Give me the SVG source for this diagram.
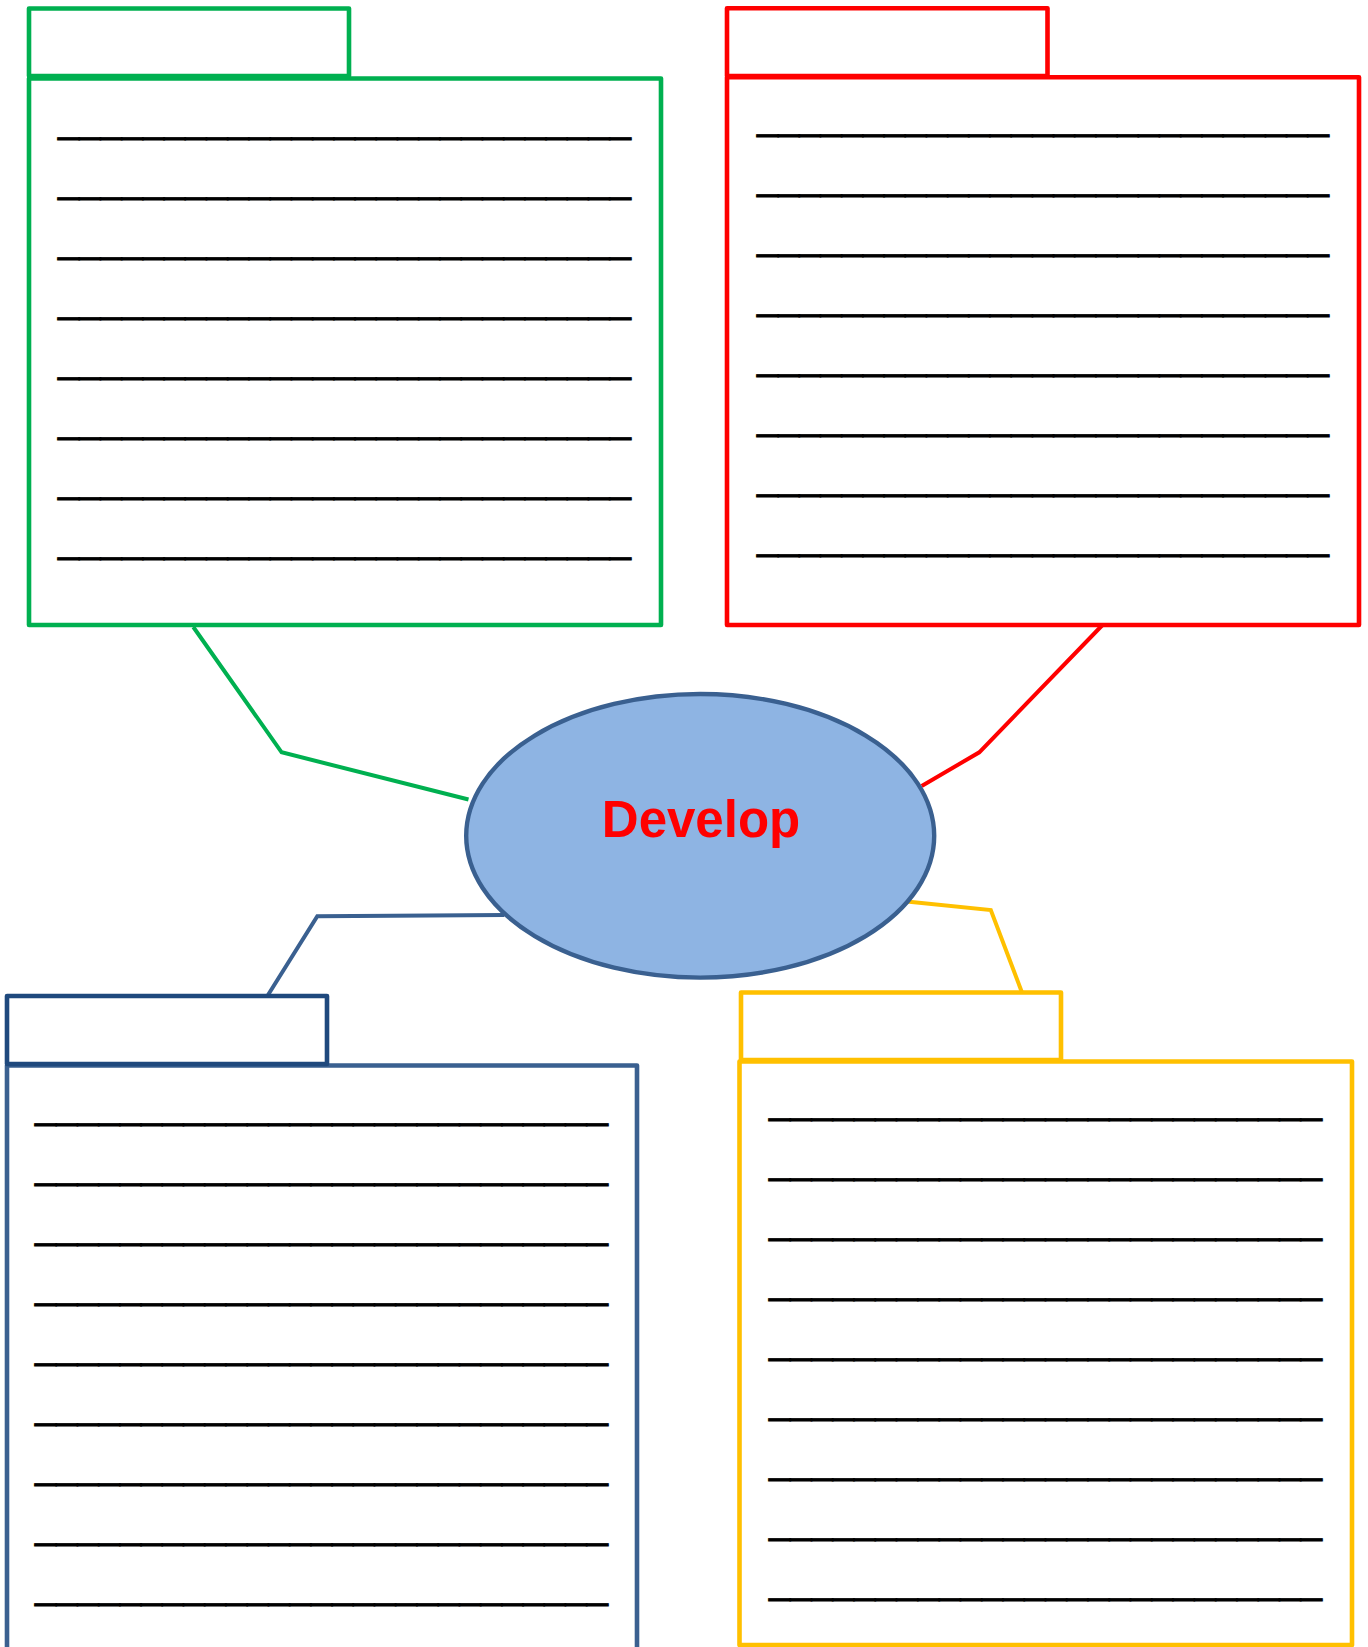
<svg xmlns="http://www.w3.org/2000/svg" width="1368" height="1647" viewBox="0 0 1368 1647">
<style>
.box{fill:#FFFFFF;stroke-width:4.6;stroke-linejoin:round}
.ul{font-family:"Liberation Sans",Arial,sans-serif;font-size:38px;fill:#000000;stroke:#000000;stroke-width:0.8}
.con{fill:none;stroke-width:4;stroke-linejoin:miter}
.g{stroke:#00B050}.r{stroke:#FF0000}.y{stroke:#FFC000}.bt{stroke:#1F497D}.bm{stroke:#3A6090}
</style>
<rect x="0" y="0" width="1368" height="1647" fill="#FFFFFF"/>
<g id="connectors">
<polyline class="con g" points="193.3,627 281.6,752.3 468.5,799.5"/>
<polyline class="con r" points="1102.5,625 979.3,752.3 921.7,786"/>
<polyline class="con bm" stroke-width="3.8" points="504.3,915 317.3,916.2 268,995"/>
<polyline class="con y" points="906.8,901.5 990.8,910 1021.8,992"/>
</g>
<g id="node-green">
<rect class="box g" x="29" y="78.5" width="632" height="546.5"/>
<rect class="box g" x="29" y="8.5" width="320" height="67.5"/>
<g class="lines">
<text class="ul" x="58" y="131.7" textLength="573" lengthAdjust="spacingAndGlyphs">___________________________</text>
<text class="ul" x="58" y="191.7" textLength="573" lengthAdjust="spacingAndGlyphs">___________________________</text>
<text class="ul" x="58" y="251.7" textLength="573" lengthAdjust="spacingAndGlyphs">___________________________</text>
<text class="ul" x="58" y="311.7" textLength="573" lengthAdjust="spacingAndGlyphs">___________________________</text>
<text class="ul" x="58" y="371.7" textLength="573" lengthAdjust="spacingAndGlyphs">___________________________</text>
<text class="ul" x="58" y="431.7" textLength="573" lengthAdjust="spacingAndGlyphs">___________________________</text>
<text class="ul" x="58" y="491.7" textLength="573" lengthAdjust="spacingAndGlyphs">___________________________</text>
<text class="ul" x="58" y="551.7" textLength="573" lengthAdjust="spacingAndGlyphs">___________________________</text>
</g>
</g>
<g id="node-red">
<rect class="box r" x="727" y="77.3" width="632" height="547.7"/>
<rect class="box r" x="727" y="8.3" width="320.5" height="67.7"/>
<g class="lines">
<text class="ul" x="757" y="129.4" textLength="572" lengthAdjust="spacingAndGlyphs">___________________________</text>
<text class="ul" x="757" y="189.4" textLength="572" lengthAdjust="spacingAndGlyphs">___________________________</text>
<text class="ul" x="757" y="249.4" textLength="572" lengthAdjust="spacingAndGlyphs">___________________________</text>
<text class="ul" x="757" y="309.4" textLength="572" lengthAdjust="spacingAndGlyphs">___________________________</text>
<text class="ul" x="757" y="369.4" textLength="572" lengthAdjust="spacingAndGlyphs">___________________________</text>
<text class="ul" x="757" y="429.4" textLength="572" lengthAdjust="spacingAndGlyphs">___________________________</text>
<text class="ul" x="757" y="489.4" textLength="572" lengthAdjust="spacingAndGlyphs">___________________________</text>
<text class="ul" x="757" y="549.4" textLength="572" lengthAdjust="spacingAndGlyphs">___________________________</text>
</g>
</g>
<g id="node-blue">
<rect class="box bm" stroke-width="4" x="7" y="1065.5" width="630" height="600"/>
<rect class="box bt" x="7" y="996" width="320" height="68"/>
<g class="lines">
<text class="ul" x="35" y="1117.7" textLength="573" lengthAdjust="spacingAndGlyphs">___________________________</text>
<text class="ul" x="35" y="1177.7" textLength="573" lengthAdjust="spacingAndGlyphs">___________________________</text>
<text class="ul" x="35" y="1237.7" textLength="573" lengthAdjust="spacingAndGlyphs">___________________________</text>
<text class="ul" x="35" y="1297.7" textLength="573" lengthAdjust="spacingAndGlyphs">___________________________</text>
<text class="ul" x="35" y="1357.7" textLength="573" lengthAdjust="spacingAndGlyphs">___________________________</text>
<text class="ul" x="35" y="1417.7" textLength="573" lengthAdjust="spacingAndGlyphs">___________________________</text>
<text class="ul" x="35" y="1477.7" textLength="573" lengthAdjust="spacingAndGlyphs">___________________________</text>
<text class="ul" x="35" y="1537.7" textLength="573" lengthAdjust="spacingAndGlyphs">___________________________</text>
<text class="ul" x="35" y="1597.7" textLength="573" lengthAdjust="spacingAndGlyphs">___________________________</text>
</g>
</g>
<g id="node-yellow">
<rect class="box y" x="739.5" y="1061.5" width="612.5" height="583.5"/>
<rect class="box y" x="741" y="992.5" width="320" height="67.5"/>
<g class="lines">
<text class="ul" x="769" y="1113.4" textLength="553" lengthAdjust="spacingAndGlyphs">__________________________</text>
<text class="ul" x="769" y="1173.4" textLength="553" lengthAdjust="spacingAndGlyphs">__________________________</text>
<text class="ul" x="769" y="1233.4" textLength="553" lengthAdjust="spacingAndGlyphs">__________________________</text>
<text class="ul" x="769" y="1293.4" textLength="553" lengthAdjust="spacingAndGlyphs">__________________________</text>
<text class="ul" x="769" y="1353.4" textLength="553" lengthAdjust="spacingAndGlyphs">__________________________</text>
<text class="ul" x="769" y="1413.4" textLength="553" lengthAdjust="spacingAndGlyphs">__________________________</text>
<text class="ul" x="769" y="1473.4" textLength="553" lengthAdjust="spacingAndGlyphs">__________________________</text>
<text class="ul" x="769" y="1533.4" textLength="553" lengthAdjust="spacingAndGlyphs">__________________________</text>
<text class="ul" x="769" y="1593.4" textLength="553" lengthAdjust="spacingAndGlyphs">__________________________</text>
</g>
</g>
<g id="node-center">
<ellipse cx="700.2" cy="835.8" rx="234" ry="141.8" fill="#8EB4E3" stroke="#3A6090" stroke-width="4.4"/>
<text x="701" y="837" text-anchor="middle" font-family="'Liberation Sans',Arial,sans-serif" font-size="51" font-weight="bold" fill="#FF0000">Develop</text>
</g>
</svg>
